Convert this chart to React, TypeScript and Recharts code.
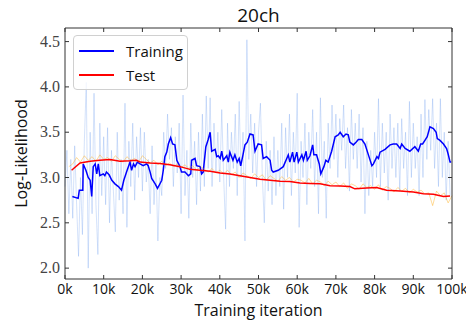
import { LineChart, Line, XAxis, YAxis, Legend, Label } from "recharts";

// raw training log-likelihood, one value every 500 iterations from 0
const trainRaw = [
  2.9, 3.3, 2.6, 3.2, 2.55, 3.35, 2.7, 2.13, 3.0, 2.37,
  3.4, 4.05, 2.0, 3.5, 2.6, 3.93, 2.7, 2.15, 3.6, 2.8,
  3.45, 2.7, 3.55, 2.5, 3.3, 2.85, 2.4, 3.5, 2.75, 3.2,
  2.6, 3.82, 2.45, 3.4, 2.9, 3.6, 2.75, 3.45, 3.0, 3.55,
  2.85, 3.5, 2.95, 3.2, 2.6, 3.35, 2.7, 3.15, 2.3, 3.0,
  2.8, 3.5, 3.1, 3.7, 3.2, 3.55, 2.9, 3.45, 3.05, 3.6,
  2.6, 3.91, 2.8, 3.3, 2.55, 3.6, 3.0, 3.4, 2.7, 3.5,
  2.85, 3.7, 2.9, 3.9, 3.1, 3.88, 2.9, 3.6, 3.05, 3.5,
  2.95, 3.75, 3.0, 2.43, 3.6, 2.9, 3.5, 3.1, 3.7, 2.8,
  3.84, 3.0, 3.5, 2.3, 4.52, 3.2, 3.7, 3.05, 3.6, 2.9,
  3.5, 3.82, 3.0, 2.5, 3.4, 2.85, 3.3, 2.7, 3.45, 2.8,
  3.3, 2.9, 3.6, 2.65, 3.55, 3.0, 3.7, 2.8, 3.5, 3.05,
  3.93, 2.45, 3.4, 3.0, 3.6, 2.7, 3.5, 3.1, 3.75, 2.9,
  3.5, 2.6, 3.88, 3.0, 3.4, 2.55, 3.6, 3.1, 3.8, 3.2,
  3.7, 3.0, 3.65, 3.3, 3.8, 3.1, 3.55, 2.85, 3.75, 3.2,
  3.6, 3.1, 3.7, 2.95, 3.55, 2.6, 3.4, 2.8, 3.3, 2.9,
  3.5, 3.0, 3.87, 2.9, 3.6, 3.05, 3.5, 2.75, 3.7, 3.1,
  3.55, 3.0, 3.6, 2.85, 3.65, 3.1, 3.5, 2.8, 3.84, 3.0,
  3.6, 3.1, 3.45, 2.8, 3.7, 3.0, 3.86, 3.2, 3.75, 3.3,
  3.87, 3.1, 3.6, 2.9, 3.87, 3.0, 3.5, 2.75, 3.4, 2.8,
];

// raw test log-likelihood, one value every 1000 iterations from 1k
const testRaw = [
  3.12, 3.15, 3.22, 3.17, 3.24, 3.19, 3.23, 3.18, 3.25,
  3.2, 3.22, 3.18, 3.24, 3.2, 3.17, 3.23, 3.19, 3.21, 3.17,
  3.24, 3.2, 3.16, 3.19, 3.14, 3.18, 3.13, 3.16, 3.12, 3.15,
  3.11, 3.14, 3.1, 3.13, 3.08, 3.12, 3.09, 3.06, 3.1, 3.05,
  3.08, 3.04, 3.08, 3.03, 3.06, 3.0, 3.05, 3.02, 2.99, 3.04,
  3.0, 3.03, 2.97, 3.02, 2.99, 2.96, 3.01, 2.97, 3.0, 2.95,
  2.98, 2.97, 2.94, 2.99, 2.93, 2.97, 2.95, 2.91, 2.96, 2.92,
  2.95, 2.9, 2.94, 2.88, 2.93, 2.91, 2.87, 2.93, 2.89, 2.91,
  2.87, 2.92, 2.86, 2.9, 2.88, 2.84, 2.89, 2.85, 2.88, 2.83,
  2.87, 2.84, 2.86, 2.82, 2.83, 2.69, 2.85, 2.8, 2.83, 2.72,
  2.8,
];

// smoothed training curve (iteration in k, value)
const trainSmoothK = [
  1.9, 3.4, 3.7, 4.6, 4.7, 5.4, 6.0, 6.5, 6.9, 7.3, 7.8, 8.2, 8.6, 9.0, 9.9, 10.3, 10.7, 11.4, 12.1, 12.9,
  13.8, 14.6, 15.2, 15.9, 16.8, 17.2, 17.7, 18.1, 18.7, 19.4, 20.2, 21.1, 21.5, 22.0, 22.4, 23.3, 23.9, 24.4, 25.0, 25.4,
  25.8, 26.3, 26.7, 27.3, 27.8, 28.4, 28.9, 29.7, 30.1, 31.0, 31.9, 32.5, 32.7, 33.6, 34.0, 34.9, 35.3, 35.7, 36.4, 37.0,
  37.5, 37.9, 38.8, 39.2, 39.6, 40.1, 40.5, 40.9, 41.8, 42.2, 42.6, 43.4, 43.9, 44.5, 45.0, 45.4, 45.9, 46.5, 47.1, 47.8,
  48.6, 49.1, 49.9, 50.8, 51.2, 52.1, 53.0, 53.4, 53.8, 55.1, 56.4, 57.3, 57.7, 58.1, 58.8, 59.2, 59.9, 60.3, 61.2, 61.6,
  62.3, 62.6, 63.3, 64.0, 64.3, 65.0, 65.7, 66.1, 66.9, 67.4, 68.0, 68.9, 69.8, 70.6, 71.1, 71.9, 72.6, 73.2, 73.6, 74.5,
  75.2, 75.8, 76.7, 77.5, 78.4, 79.3, 79.7, 80.6, 81.0, 81.4, 82.7, 84.0, 84.8, 85.7, 86.6, 87.0, 87.9, 89.1, 90.4, 91.3,
  91.9, 92.4, 93.0, 93.6, 94.3, 95.2, 95.9, 96.2, 96.9, 97.8, 98.6, 99.0, 99.5, 99.8,
];
const trainSmoothLL = [
  2.79, 2.77, 2.86, 2.86, 3.15, 3.08, 3.0, 2.97, 2.79, 3.12, 3.15, 3.04, 3.15, 3.02, 3.04, 3.02, 3.06, 3.03, 2.97, 2.93,
  2.9, 2.86, 2.97, 3.06, 3.17, 3.08, 3.15, 3.12, 3.17, 3.15, 3.13, 3.15, 3.13, 3.06, 2.99, 2.93, 2.88, 2.92, 2.97, 3.08,
  3.23, 3.28, 3.37, 3.44, 3.37, 3.36, 3.19, 3.12, 3.06, 3.06, 3.02, 3.04, 3.19, 3.21, 3.13, 3.12, 3.04, 3.06, 3.34, 3.42,
  3.5, 3.29, 3.31, 3.23, 3.24, 3.21, 3.29, 3.19, 3.24, 3.17, 3.28, 3.19, 3.25, 3.17, 3.21, 3.13, 3.23, 3.36, 3.39, 3.48,
  3.47, 3.29, 3.37, 3.36, 3.21, 3.23, 3.19, 3.08, 3.06, 3.08, 3.12, 3.21, 3.25, 3.17, 3.28, 3.17, 3.28, 3.17, 3.25, 3.19,
  3.29, 3.19, 3.24, 3.36, 3.25, 3.25, 3.15, 3.04, 3.12, 3.19, 3.17, 3.29, 3.45, 3.47, 3.5, 3.45, 3.48, 3.47, 3.39, 3.36,
  3.39, 3.42, 3.42, 3.37, 3.25, 3.13, 3.15, 3.23, 3.21, 3.28, 3.31, 3.36, 3.37, 3.37, 3.32, 3.37, 3.32, 3.29, 3.34, 3.29,
  3.37, 3.37, 3.41, 3.45, 3.56, 3.54, 3.5, 3.43, 3.41, 3.37, 3.32, 3.26, 3.17, 3.17,
];

// smoothed test curve (iteration in k, value)
const testSmoothK = [
  1.7, 3.9, 6.5, 9.0, 11.6, 14.2, 16.8, 18.5, 19.4, 22.0, 24.5, 27.1, 29.7, 32.3, 34.9, 37.5, 40.1, 42.6, 45.2, 47.8,
  50.4, 53.0, 55.6, 58.1, 60.7, 63.3, 65.9, 68.5, 71.1, 73.6, 74.9, 78.0, 80.5, 83.1, 86.6, 90.0, 92.6, 95.2, 97.8, 99.5,
];
const testSmoothLL = [
  3.08, 3.16, 3.18, 3.19, 3.2, 3.18, 3.185, 3.19, 3.17, 3.16, 3.155, 3.14, 3.12, 3.09, 3.08, 3.07, 3.05, 3.04, 3.02, 3.0,
  2.98, 2.97, 2.96, 2.955, 2.94, 2.935, 2.93, 2.91, 2.905, 2.9, 2.875, 2.885, 2.89, 2.86, 2.85, 2.84, 2.82, 2.815, 2.79, 2.795,
];

const xTicks = [0, 10000, 20000, 30000, 40000, 50000, 60000, 70000, 80000, 90000, 100000];
const yTicks = [2.0, 2.5, 3.0, 3.5, 4.0, 4.5];
const X_MIN = 0;
const X_MAX = 100000;
const Y_MIN = 1.88;
const Y_MAX = 4.65;

const legendItems = [
  { name: "Training", color: "#0000ff" },
  { name: "Test", color: "#ff0000" },
];

const SANS = "'Open Sans', 'DejaVu Sans', sans-serif";
const SERIF = "'Liberation Serif', 'DejaVu Serif', serif";
const FRAME = "#333";
const TICK = 4;

const W = 466;
const H = 318;
const M = { top: 20, right: 22, bottom: 8, left: 17 };
const Y_AXIS_W = 40;
const X_AXIS_H = 39;
const PLOT_LEFT = M.left + Y_AXIS_W;
const PLOT_TOP = M.top;
const PLOT_RIGHT = W - M.right;
const PLOT_BOTTOM = H - M.bottom - X_AXIS_H;
// tick length converted to data units so the frame ticks go through the scales
const xTickLen = ((X_MAX - X_MIN) * TICK) / (PLOT_RIGHT - PLOT_LEFT);
const yTickLen = ((Y_MAX - Y_MIN) * TICK) / (PLOT_BOTTOM - PLOT_TOP);

const trainRawData = trainRaw.map((ll, i) => ({ iter: i * 500, ll }));
const testRawData = testRaw.map((ll, i) => ({ iter: (i + 1) * 1000, ll }));
const trainSmoothData = trainSmoothK.map((k, i) => ({ iter: k * 1000, ll: trainSmoothLL[i] }));
const testSmoothData = testSmoothK.map((k, i) => ({ iter: k * 1000, ll: testSmoothLL[i] }));

// axes frame (top + right edges) and inward ticks on all four sides
const frameData = [
  { iter: X_MIN, ll: Y_MAX },
  { iter: X_MAX, ll: Y_MAX },
  { iter: X_MAX, ll: Y_MIN },
];
const tickSegments = [
  ...xTicks.map((t) => [
    { iter: t, ll: Y_MIN },
    { iter: t, ll: Y_MIN + yTickLen },
  ]),
  ...xTicks.map((t) => [
    { iter: t, ll: Y_MAX },
    { iter: t, ll: Y_MAX - yTickLen },
  ]),
  ...yTicks.map((t) => [
    { iter: X_MIN, ll: t },
    { iter: X_MIN + xTickLen, ll: t },
  ]),
  ...yTicks.map((t) => [
    { iter: X_MAX, ll: t },
    { iter: X_MAX - xTickLen, ll: t },
  ]),
];

function XTick(props: any) {
  const { x, y, payload } = props;
  return (
    <text x={x} y={y + 15} textAnchor="middle" fill="#111" fontFamily={SANS} fontSize={14}>
      {`${payload.value / 1000}k`}
    </text>
  );
}

function YTick(props: any) {
  const { x, y, payload } = props;
  return (
    <text x={x - 5} y={y + 5} textAnchor="end" fill="#444" fontFamily={SERIF} fontSize={16}>
      {payload.value.toFixed(1)}
    </text>
  );
}

function LegendBox() {
  return (
    <div
      style={{
        border: "1px solid #d0d0d0",
        borderRadius: 4,
        background: "rgba(255,255,255,0.8)",
        width: 115,
        height: 55,
        boxSizing: "border-box",
        paddingTop: 3,
        fontFamily: SANS,
        fontSize: 15,
        color: "#111",
      }}
    >
      {legendItems.map((it) => (
        <div key={it.name} style={{ display: "flex", alignItems: "center", height: 24 }}>
          <div style={{ width: 35, height: 1.6, background: it.color, marginLeft: 5, marginRight: 12 }} />
          <span>{it.name}</span>
        </div>
      ))}
    </div>
  );
}

export default function App() {
  return (
    <div style={{ position: "relative", width: W, height: H }}>
      <div
        style={{
          position: "absolute",
          left: PLOT_LEFT,
          width: PLOT_RIGHT - PLOT_LEFT,
          top: -6,
          textAlign: "center",
          fontFamily: SANS,
          fontSize: 19,
          color: "#111",
        }}
      >
        20ch
      </div>
      <LineChart width={W} height={H} margin={M}>
        <XAxis
          type="number"
          dataKey="iter"
          domain={[X_MIN, X_MAX]}
          ticks={xTicks}
          interval={0}
          tickLine={false}
          tickSize={0}
          tickMargin={0}
          height={X_AXIS_H}
          stroke={FRAME}
          tick={<XTick />}
        >
          <Label
            value="Training iteration"
            content={() => (
              <text
                x={(PLOT_LEFT + PLOT_RIGHT) / 2}
                y={308}
                textAnchor="middle"
                style={{ fill: "#111", fontFamily: SANS, fontSize: 16 }}
              >
                Training iteration
              </text>
            )}
          />
        </XAxis>
        <YAxis
          type="number"
          domain={[Y_MIN, Y_MAX]}
          ticks={yTicks}
          interval={0}
          tickLine={false}
          tickSize={0}
          tickMargin={0}
          width={Y_AXIS_W}
          stroke={FRAME}
          tick={<YTick />}
        >
          <Label
            value="Log-Likelihood"
            content={() => (
              <text
                x={13}
                y={(PLOT_TOP + PLOT_BOTTOM) / 2}
                transform={`rotate(-90 13 ${(PLOT_TOP + PLOT_BOTTOM) / 2})`}
                textAnchor="middle"
                dominantBaseline="central"
                style={{ fill: "#111", fontFamily: SANS, fontSize: 16 }}
              >
                Log-Likelihood
              </text>
            )}
          />
        </YAxis>
        <Legend
          layout="vertical"
          align="center"
          verticalAlign="middle"
          content={() => <LegendBox />}
          wrapperStyle={{ left: 65, top: 27, width: "auto", height: "auto" }}
        />
        <Line
          data={trainRawData}
          dataKey="ll"
          stroke="#6495ed"
          strokeOpacity={0.35}
          strokeWidth={0.8}
          dot={false}
          legendType="none"
          isAnimationActive={false}
        />
        <Line
          data={trainSmoothData}
          dataKey="ll"
          stroke="#0000ff"
          strokeWidth={1.5}
          dot={false}
          isAnimationActive={false}
        />
        <Line
          data={testRawData}
          dataKey="ll"
          stroke="#ffa500"
          strokeOpacity={0.5}
          strokeWidth={0.8}
          dot={false}
          legendType="none"
          isAnimationActive={false}
        />
        <Line
          data={testSmoothData}
          dataKey="ll"
          stroke="#ff0000"
          strokeWidth={1.5}
          dot={false}
          isAnimationActive={false}
        />
        <Line
          data={frameData}
          dataKey="ll"
          stroke={FRAME}
          strokeWidth={1}
          dot={false}
          legendType="none"
          isAnimationActive={false}
        />
        {tickSegments.map((seg, i) => (
          <Line
            key={`tick${i}`}
            data={seg}
            dataKey="ll"
            stroke={FRAME}
            strokeWidth={1}
            dot={false}
            legendType="none"
            isAnimationActive={false}
          />
        ))}
      </LineChart>
    </div>
  );
}
